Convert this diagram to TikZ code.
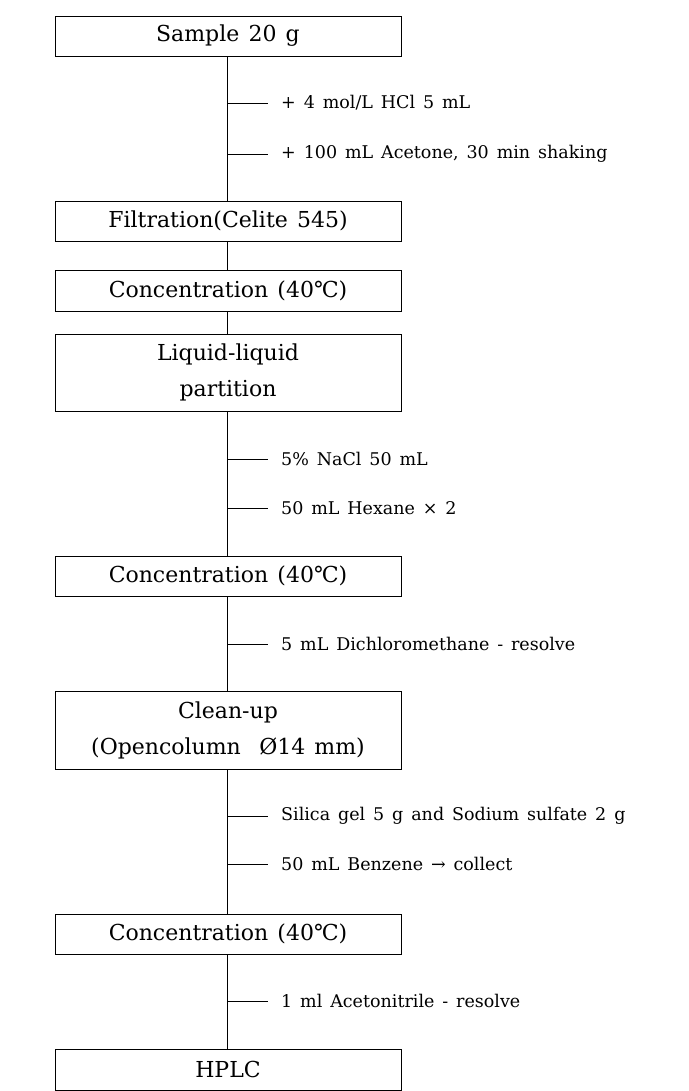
\documentclass[tikz,border=0pt]{standalone}
\usepackage{fontspec}
\setmainfont{DejaVu Serif}
\newcommand{\myboxfont}{\fontsize{22}{36}\selectfont\spaceskip=9.2pt plus 2pt\relax}
\newcommand{\mylabfont}{\fontsize{17.5}{20}\selectfont\spaceskip=7.9pt\relax}
\begin{document}
\begin{tikzpicture}[x=1pt,y=-1pt,
  stepbox/.style={draw,line width=0.8pt,minimum width=346pt,inner sep=0pt,align=center,
    font=\myboxfont},
  lab/.style={anchor=west,inner sep=0pt,font=\mylabfont},
  conn/.style={line width=0.8pt}]
\useasboundingbox (0,0) rectangle (688,1091);
\fill[white] (0,0) rectangle (688,1091);
\node[stepbox,minimum height=40pt] (b1) at (228,36) {Sample 20 g};
\node[stepbox,minimum height=40pt] (b2) at (228,221) {Filtration(Celite 545)};
\node[stepbox,minimum height=41pt] (b3) at (228,290.5) {Concentration (40℃)};
\node[stepbox,minimum height=77pt] (b4) at (228,372.5) {Liquid-liquid\\partition};
\node[stepbox,minimum height=40pt] (b5) at (228,576) {Concentration (40℃)};
\node[stepbox,minimum height=78pt] (b6) at (228,730) {Clean-up\\(Opencolumn\ \ Ø14 mm)};
\node[stepbox,minimum height=40pt] (b7) at (228,934) {Concentration (40℃)};
\node[stepbox,minimum height=41pt] (b8) at (228,1069.5) {HPLC};
\foreach \a/\b in {b1/b2,b2/b3,b3/b4,b4/b5,b5/b6,b6/b7,b7/b8}
  \draw[conn] ([xshift=-1pt]\a.south) -- ([xshift=-1pt]\b.north);
% side branches
\foreach \n/\y/\t in {
  c1/103/{+ 4 mol/L HCl 5 mL},
  c2/154/{+ 100 mL Acetone, 30 min shaking},
  c3/459/{5\% NaCl 50 mL},
  c4/508/{50 mL Hexane × 2},
  c5/644/{5 mL Dichloromethane - resolve},
  c6/816/{Silica gel 5 g and Sodium sulfate 2 g},
  c7/864/{50 mL Benzene → collect},
  c8/1001/{1 ml Acetonitrile - resolve}}{
  \coordinate (\n a) at (227,\y);
  \coordinate (\n b) at (268,\y);
  \node[lab] (\n t) at (281,\y) {\t};
  \draw[conn] (\n a) -- (\n b);
}
\end{tikzpicture}
\end{document}
